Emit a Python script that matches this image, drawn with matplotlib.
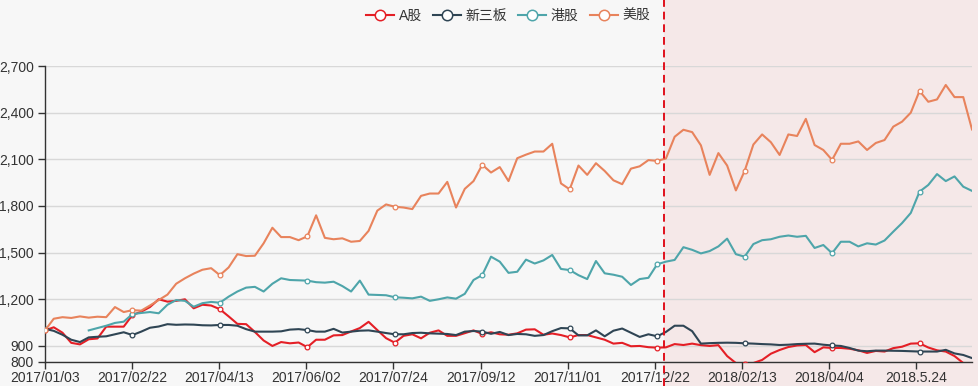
import numpy as np
import matplotlib
matplotlib.use("Agg")
import matplotlib.pyplot as plt
from matplotlib import transforms
from matplotlib.lines import Line2D
from matplotlib.patches import Rectangle
from matplotlib.ticker import FuncFormatter

plt.rcParams['font.family'] = ['Liberation Sans', 'Noto Sans CJK SC', 'DejaVu Sans']

# ---------------- data ----------------
series_names = ["A股", "新三板", "港股", "美股"]
n_categories = 533
tick_labels = ["2017/01/03", "2017/02/22", "2017/04/13", "2017/06/02", "2017/07/24",
               "2017/09/12", "2017/11/01", "2017/12/22", "2018/02/13", "2018/04/04",
               "2018.5.24"]
tick_step = 50
mark_index = 355

a_share = [1000, 1020, 985, 920, 910, 943, 948, 1024, 1024, 1024,
           1099, 1120, 1150, 1200, 1185, 1190, 1200, 1142, 1165, 1160,
           1136, 1090, 1042, 1040, 990, 935, 900, 925, 917, 922,
           892, 940, 940, 968, 970, 993, 1015, 1055, 1002, 950,
           921, 965, 975, 949, 985, 1000, 965, 965, 982, 1000,
           977, 988, 975, 972, 981, 1005, 1007, 972, 980, 970,
           955, 970, 970, 955, 940, 915, 920, 898, 900, 892,
           889, 891, 912, 906, 915, 905, 900, 905, 835, 790,
           785, 790, 810, 850, 874, 893, 903, 906, 860, 891,
           887, 887, 882, 872, 855, 868, 864, 886, 895, 915,
           917, 890, 872, 864, 835, 790, 770]

neeq = [1010, 997, 972, 940, 925, 955, 959, 962, 975, 988,
        970, 992, 1017, 1025, 1040, 1036, 1038, 1037, 1033, 1032,
        1035, 1035, 1030, 1008, 992, 992, 992, 994, 1005, 1008,
        1002, 992, 992, 1010, 986, 992, 998, 1000, 992, 983,
        975, 975, 983, 985, 981, 979, 977, 970, 992, 996,
        992, 978, 990, 970, 977, 975, 965, 970, 995, 1015,
        1013, 968, 968, 1000, 962, 998, 1012, 985, 958, 975,
        962, 990, 1030, 1030, 995, 915, 918, 920, 921, 920,
        917, 915, 912, 910, 906, 908, 912, 914, 915, 908,
        903, 900, 887, 870, 866, 870, 870, 869, 868, 866,
        864, 864, 864, 875, 852, 842, 822]

hk = [np.nan, np.nan, np.nan, np.nan, np.nan, 1000, 1015, 1030, 1048, 1056,
      1105, 1112, 1118, 1110, 1165, 1195, 1190, 1152, 1175, 1183,
      1178, 1217, 1250, 1275, 1280, 1250, 1300, 1335, 1324, 1322,
      1320, 1310, 1307, 1313, 1285, 1250, 1320, 1230, 1228, 1226,
      1213, 1210, 1206, 1217, 1190, 1200, 1212, 1204, 1235, 1324,
      1356, 1474, 1442, 1370, 1377, 1455, 1430, 1450, 1485, 1395,
      1388, 1355, 1330, 1446, 1367, 1358, 1345, 1292, 1330, 1338,
      1425, 1442, 1453, 1535, 1518, 1495, 1510, 1540, 1590, 1490,
      1474, 1555, 1580, 1586, 1602, 1610, 1602, 1608, 1530, 1549,
      1496, 1570, 1570, 1540, 1560, 1552, 1578, 1635, 1690, 1755,
      1892, 1935, 2005, 1960, 1990, 1924, 1897]

us = [1000, 1075, 1085, 1080, 1090, 1082, 1088, 1085, 1150, 1118,
      1130, 1127, 1160, 1195, 1230, 1300, 1335, 1365, 1390, 1400,
      1355, 1405, 1490, 1478, 1480, 1560, 1660, 1600, 1600, 1580,
      1605, 1740, 1595, 1586, 1592, 1570, 1575, 1640, 1770, 1810,
      1795, 1790, 1780, 1865, 1880, 1880, 1955, 1790, 1910, 1960,
      2065, 2015, 2050, 1960, 2107, 2130, 2150, 2150, 2200, 1945,
      1907, 2060, 2000, 2075, 2025, 1965, 1940, 2040, 2055, 2095,
      2090, 2105, 2245, 2290, 2275, 2190, 2000, 2140, 2060, 1900,
      2025, 2195, 2260, 2210, 2128, 2260, 2250, 2360, 2192, 2160,
      2096, 2200, 2200, 2215, 2160, 2205, 2224, 2310, 2342, 2400,
      2540, 2470, 2485, 2578, 2500, 2500, 2292]

y_ticks = [800, 900, 1200, 1500, 1800, 2100, 2400, 2700]

colors = ["#e41f26", "#2f4554", "#4ea5aa", "#e8835c"]

# ---------------- figure ----------------
W, H = 979, 386
fig = plt.figure(figsize=(W / 100, H / 100), dpi=100)
fig.patch.set_facecolor("#f7f7f7")

left_px, right_px, top_px, bottom_px = 45, 972, 66, 361.5
ax = fig.add_axes([left_px / W, 1 - bottom_px / H,
                   (right_px - left_px) / W, (bottom_px - top_px) / H])
ax.set_facecolor("none")

blend = transforms.blended_transform_factory(ax.transData, fig.transFigure)
area = Rectangle((mark_index, 0), n_categories + 20 - mark_index, 1,
                 transform=blend, facecolor="#f5e8e8", edgecolor="none",
                 zorder=-5, clip_on=False)
fig.patches.append(area)
area.set_figure(fig)

for s, c in zip([a_share, neeq, hk, us], colors):
    vals = np.array(s, dtype=float)
    xs = np.linspace(0, n_categories - 1, len(vals))
    ax.plot(xs, vals, color=c, lw=1.5, marker="o", markevery=10,
            markersize=3.4, markerfacecolor="white", markeredgecolor=c,
            markeredgewidth=0.9, zorder=3, solid_joinstyle="round")

mline = Line2D([mark_index, mark_index], [0, 1], transform=blend,
               color="#e0101c", lw=1.4, linestyle=(0, (4, 2.5)),
               zorder=4, clip_on=False)
ax.add_line(mline)

ax.set_xlim(0, n_categories - 1)
ax.set_ylim(800, 2700)
ax.set_yticks(y_ticks)
ax.yaxis.set_major_formatter(FuncFormatter(lambda v, p: f"{int(v):,}"))
ax.set_xticks(np.arange(0, len(tick_labels) * tick_step, tick_step))
ax.set_xticklabels(tick_labels)

for sp in ["top", "right"]:
    ax.spines[sp].set_visible(False)
for sp in ["left", "bottom"]:
    ax.spines[sp].set_color("#333333")
    ax.spines[sp].set_linewidth(1.0)

ax.tick_params(axis="both", colors="#333333", labelsize=10, length=5, width=1,
               direction="out")
ax.tick_params(axis="x", pad=2)
ax.tick_params(axis="y", pad=3)
ax.grid(axis="y", color="#d8d8d8", lw=1.0, zorder=0)
ax.set_axisbelow(True)

handles = [Line2D([0], [0], color=c, lw=1.5, marker="o", markersize=7.5,
                  markerfacecolor="white", markeredgecolor=c, markeredgewidth=1.1)
           for c in colors]
leg = fig.legend(handles, series_names, loc="upper center",
                 bbox_to_anchor=(0.519, 1.01), ncol=4, frameon=False,
                 fontsize=10, handlelength=2.0, handletextpad=0.35,
                 columnspacing=0.8)
for t in leg.get_texts():
    t.set_color("#333333")

fig.savefig("out.png", dpi=100, facecolor=fig.get_facecolor())
